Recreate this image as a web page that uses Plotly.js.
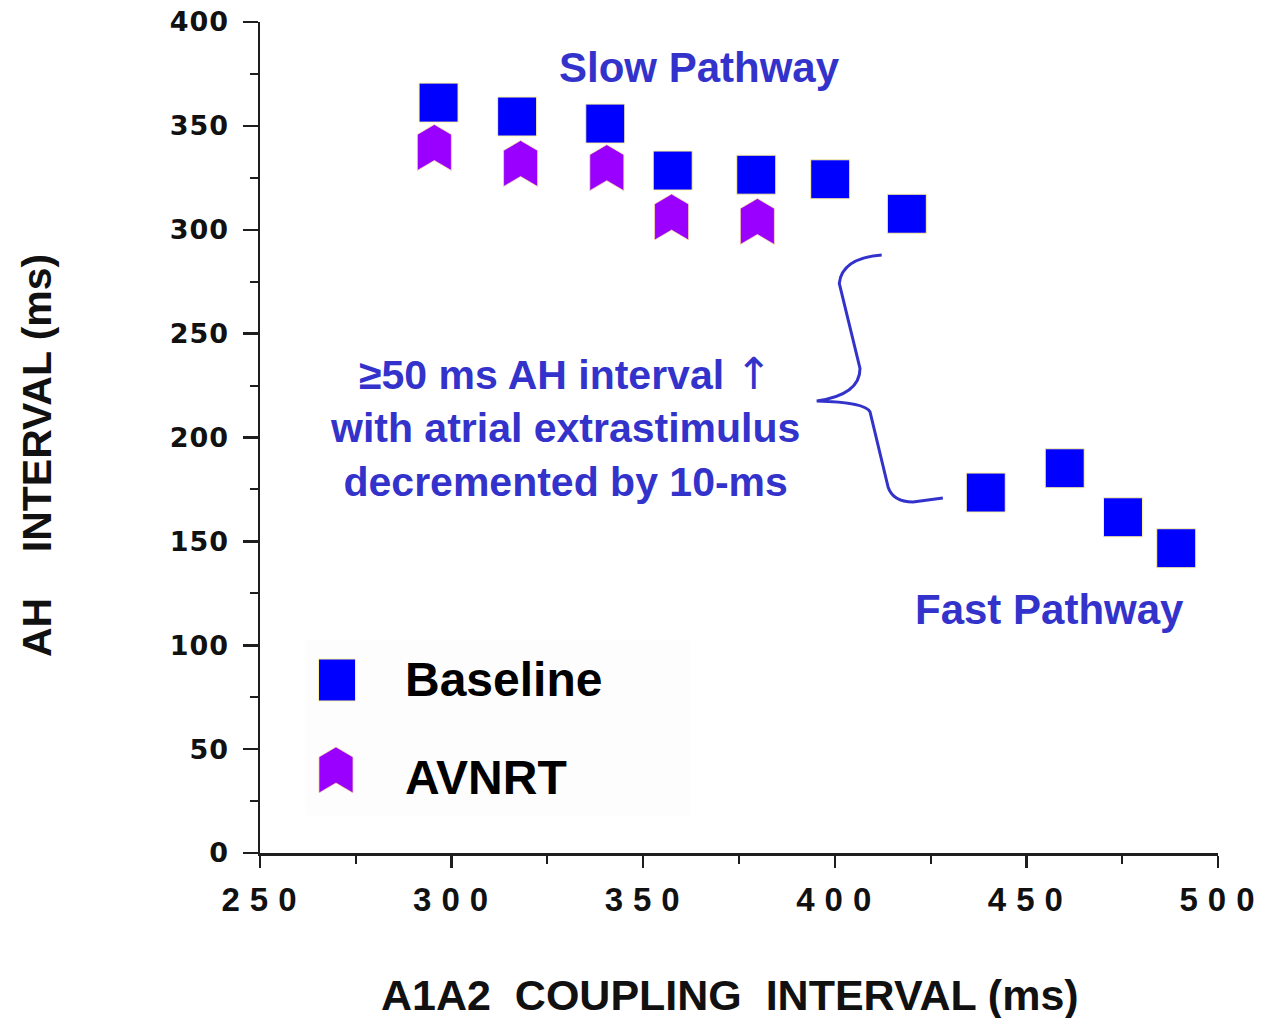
<!DOCTYPE html>
<html>
<head>
<meta charset="utf-8">
<script src="https://cdn.plot.ly/plotly-3.0.1.min.js"></script>
<style>
  html, body { margin: 0; padding: 0; background: #fff; }
  #chart { width: 1267px; height: 1018px; }
  .xtick text { letter-spacing: 10px; }
  .ytick text { letter-spacing: 1px; }
</style>
</head>
<body>
<div id="chart"></div>
<script>
// ---- data ----
const seriesNames = ["Baseline", "AVNRT"];
const baselineX = [296.6, 317.1, 340.1, 357.7, 379.5, 398.8, 418.8, 439.4, 460.0, 475.2, 489.1];
const baselineY = [361.2, 354.5, 351.1, 328.5, 326.5, 324.3, 307.7, 173.5, 185.2, 161.6, 146.7];
const avnrtX = [295.5, 318.0, 340.5, 357.4, 379.8];
const avnrtY = [339.6, 331.9, 329.9, 306.1, 304.0];
const xTickVals = [250, 300, 350, 400, 450, 500];
const yTickVals = [0, 50, 100, 150, 200, 250, 300, 350, 400];
const xTitle = "A1A2\u00a0 COUPLING\u00a0 INTERVAL (ms)";
const yTitle = "AH\u00a0\u00a0\u00a0 INTERVAL (ms)";
const labelSlow = "Slow Pathway";
const labelFast = "Fast Pathway";
const labelNote = [
  "\u226550 ms AH interval <span style=\"font-family:'DejaVu Sans';font-weight:normal;font-size:44px\">\u2191</span>",
  "with atrial extrastimulus",
  "decremented by 10-ms"
];

// ---- styles ----
const blueFill = "#0000ff";
const purpleFill = "#9900ff";
const noteColor = "#3333cc";
const axisColor = "#1e1e1e";
const sansBold = "Liberation Sans, Arial, sans-serif";

// chevron marker outline in pixels (relative to point centre, y up)
const chevronPath = "M0,23 L17,13 L17,-23 L0,-13 L-17,-23 L-17,13 Z";

const traces = [
  {
    type: "scatter", mode: "markers", name: seriesNames[0],
    x: baselineX, y: baselineY,
    marker: { symbol: "square", size: 39, color: blueFill, line: { color: "#fff3a0", width: 1 } },
    showlegend: false
  },
  {
    type: "scatter", mode: "markers", name: seriesNames[1],
    x: avnrtX, y: avnrtY,
    marker: { symbol: "square", size: 34, color: purpleFill, opacity: 0 },
    showlegend: false
  }
];

const shapes = [];
// chevron marks anchored at the AVNRT data values through the axes
avnrtX.forEach((xv, i) => {
  shapes.push({
    type: "path", xref: "x", yref: "y",
    xsizemode: "pixel", ysizemode: "pixel",
    xanchor: xv, yanchor: avnrtY[i],
    path: chevronPath,
    fillcolor: purpleFill,
    line: { color: "rgba(255,225,150,0.7)", width: 1 },
    layer: "above"
  });
});

// brace annotation
shapes.push({
  type: "path", xref: "x", yref: "y",
  path: "M412.24,287.85 Q401.88,286.4 401.17,274.2 L406.58,233.3 Q406.6,220.6 395.28,217.6 " +
        "Q408.1,217.0 409.2,212.3 L413.9,176.2 Q415.2,169.0 420.4,169.0 L428.2,170.9",
  line: { color: noteColor, width: 3 },
  layer: "above"
});

// manual legend (large symbols like the reference)
shapes.push({
  type: "rect", xref: "paper", yref: "paper",
  x0: 0.047, x1: 0.449, y0: 0.045, y1: 0.256,
  fillcolor: "#fdfdfd", line: { width: 0 }, layer: "below"
});
shapes.push({
  type: "rect", xref: "paper", yref: "paper",
  xsizemode: "pixel", ysizemode: "pixel", xanchor: 0.0804, yanchor: 0.2082,
  x0: -18.5, x1: 18.5, y0: -21, y1: 21,
  fillcolor: blueFill, line: { color: "#fff3a0", width: 1 }, layer: "above"
});
shapes.push({
  type: "path", xref: "paper", yref: "paper",
  xsizemode: "pixel", ysizemode: "pixel", xanchor: 0.0793, yanchor: 0.0999,
  path: chevronPath,
  fillcolor: purpleFill, line: { color: "rgba(255,225,150,0.7)", width: 1 }, layer: "above"
});

const annotations = [
  { x: 364.6, y: 378.3, xref: "x", yref: "y", text: labelSlow, showarrow: false,
    xanchor: "center", yanchor: "middle",
    font: { family: sansBold, weight: "bold", size: 42, color: noteColor } },
  { x: 455.9, y: 117.0, xref: "x", yref: "y", text: labelFast, showarrow: false,
    xanchor: "center", yanchor: "middle",
    font: { family: sansBold, weight: "bold", size: 42, color: noteColor } },
  { x: 329.6, y: 205.1, xref: "x", yref: "y", text: labelNote.join("<br>"), showarrow: false,
    xanchor: "center", yanchor: "middle", align: "center",
    font: { family: sansBold, weight: "bold", size: 41, color: noteColor } },
  { x: 0.149, y: 0.2082, xref: "paper", yref: "paper", text: seriesNames[0], showarrow: false,
    xanchor: "left", yanchor: "middle",
    font: { family: sansBold, weight: "bold", size: 48, color: "#000" } },
  { x: 0.149, y: 0.0903, xref: "paper", yref: "paper", text: seriesNames[1], showarrow: false,
    xanchor: "left", yanchor: "middle",
    font: { family: sansBold, weight: "bold", size: 48, color: "#000" } },
  // axis titles
  { x: 0.4911, y: -0.1709, xref: "paper", yref: "paper", text: xTitle, showarrow: false,
    xanchor: "center", yanchor: "middle",
    font: { family: sansBold, weight: "bold", size: 43, color: "#111" } },
  { x: -0.2328, y: 0.4789, xref: "paper", yref: "paper", text: yTitle, showarrow: false,
    textangle: -90, xanchor: "center", yanchor: "middle",
    font: { family: sansBold, weight: "bold", size: 41, color: "#111" } }
];

const layout = {
  width: 1267, height: 1018,
  margin: { l: 260, r: 49, t: 22, b: 165 },
  paper_bgcolor: "#fff", plot_bgcolor: "#fff",
  showlegend: false,
  xaxis: {
    range: [250, 500], tickvals: xTickVals, showgrid: false, zeroline: false,
    showline: true, linecolor: axisColor, linewidth: 2.5,
    ticks: "outside", ticklen: 12, tickwidth: 2.5, tickcolor: axisColor,
    minor: { dtick: 25, tick0: 250, ticks: "outside", ticklen: 8, tickwidth: 2, tickcolor: axisColor },
    tickfont: { family: sansBold, weight: "bold", size: 33, color: "#111" },
    ticklabelstandoff: 4, ticklabelshift: 4, ticklabeloverflow: "allow"
  },
  yaxis: {
    range: [0, 400], tickvals: yTickVals, showgrid: false, zeroline: false,
    showline: true, linecolor: axisColor, linewidth: 2.5,
    ticks: "outside", ticklen: 15, tickwidth: 2.5, tickcolor: axisColor,
    minor: { dtick: 25, tick0: 0, ticks: "outside", ticklen: 8, tickwidth: 2, tickcolor: axisColor },
    tickfont: { family: "DejaVu Sans, sans-serif", weight: "bold", size: 27, color: "#111" },
    ticklabelstandoff: 8
  },
  shapes: shapes,
  annotations: annotations
};

Plotly.newPlot("chart", traces, layout, { displayModeBar: false, staticPlot: true });
</script>
</body>
</html>
